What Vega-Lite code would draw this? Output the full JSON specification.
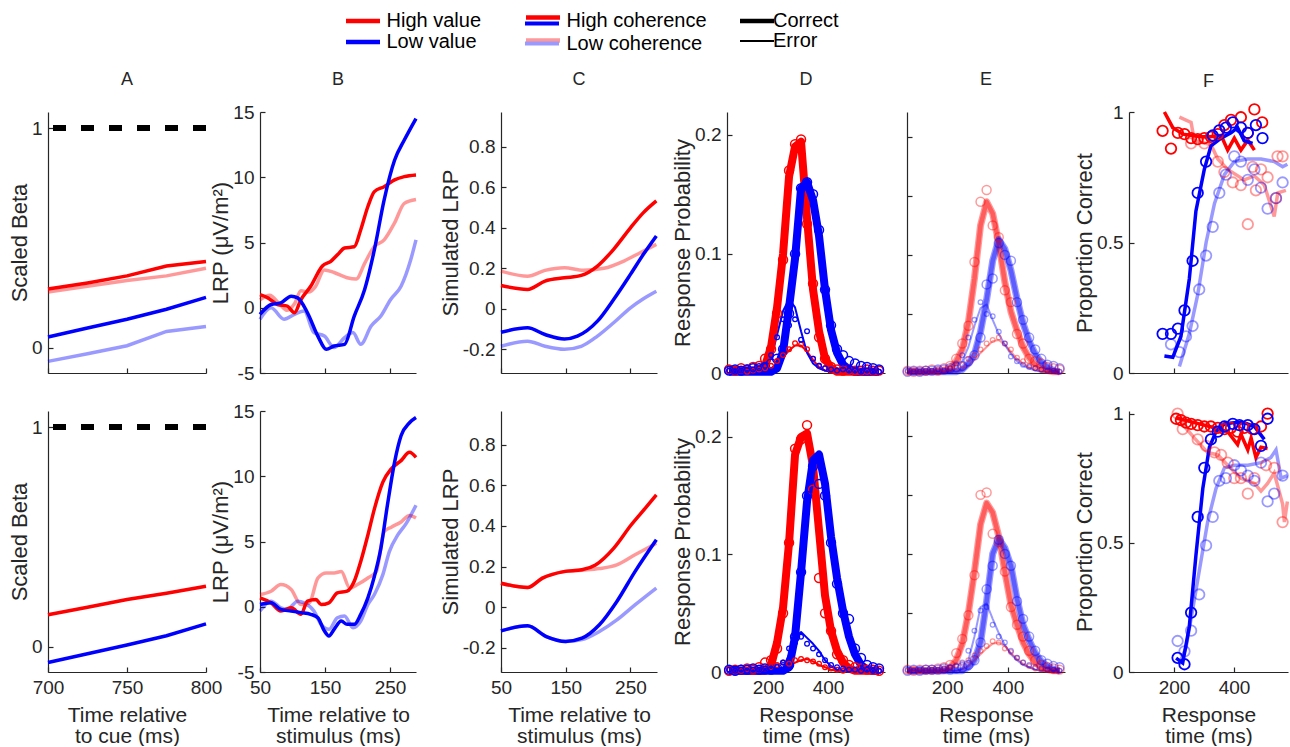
{
"$schema":"https://vega.github.io/schema/vega-lite/v6.json",
"background":"white",
"padding":{"left":8,"top":10,"right":0,"bottom":0},
"autosize":{"type":"pad"},
"datasets":{
"A1":[{"v":"HV","c":"LC","x":700,"y":0.254},{"v":"HV","c":"LC","x":725,"y":0.28},{"v":"HV","c":"LC","x":750,"y":0.306},{"v":"HV","c":"LC","x":775,"y":0.327},{"v":"HV","c":"LC","x":800,"y":0.362},
{"v":"LV","c":"LC","x":700,"y":-0.062},{"v":"LV","c":"LC","x":725,"y":-0.027},{"v":"LV","c":"LC","x":750,"y":0.009},{"v":"LV","c":"LC","x":775,"y":0.074},{"v":"LV","c":"LC","x":800,"y":0.097},
{"v":"HV","c":"HC","x":700,"y":0.267},{"v":"HV","c":"HC","x":725,"y":0.295},{"v":"HV","c":"HC","x":750,"y":0.327},{"v":"HV","c":"HC","x":775,"y":0.372},{"v":"HV","c":"HC","x":800,"y":0.392},
{"v":"LV","c":"HC","x":700,"y":0.049},{"v":"LV","c":"HC","x":725,"y":0.09},{"v":"LV","c":"HC","x":750,"y":0.13},{"v":"LV","c":"HC","x":775,"y":0.175},{"v":"LV","c":"HC","x":800,"y":0.229}],
"A2":[{"v":"HV","c":"HC","x":700,"y":0.146},{"v":"HV","c":"HC","x":725,"y":0.18},{"v":"HV","c":"HC","x":750,"y":0.215},{"v":"HV","c":"HC","x":775,"y":0.243},{"v":"HV","c":"HC","x":800,"y":0.275},
{"v":"LV","c":"HC","x":700,"y":-0.072},{"v":"LV","c":"HC","x":725,"y":-0.032},{"v":"LV","c":"HC","x":750,"y":0.008},{"v":"LV","c":"HC","x":775,"y":0.05},{"v":"LV","c":"HC","x":800,"y":0.104}],
"B1":[{"v":"HV","c":"LC","x":50,"y":0.6},{"v":"HV","c":"LC","x":65,"y":0.95},{"v":"HV","c":"LC","x":80,"y":0.3},{"v":"HV","c":"LC","x":92,"y":-0.2},{"v":"HV","c":"LC","x":103,"y":0.3},{"v":"HV","c":"LC","x":113,"y":1.3},{"v":"HV","c":"LC","x":125,"y":1.2},{"v":"HV","c":"LC","x":135,"y":1.6},{"v":"HV","c":"LC","x":149,"y":2.9},{"v":"HV","c":"LC","x":164,"y":2.7},{"v":"HV","c":"LC","x":184,"y":2.3},{"v":"HV","c":"LC","x":198,"y":2.2},{"v":"HV","c":"LC","x":211,"y":3.4},{"v":"HV","c":"LC","x":226,"y":4.7},{"v":"HV","c":"LC","x":241,"y":5.2},{"v":"HV","c":"LC","x":257,"y":6.5},{"v":"HV","c":"LC","x":272,"y":8.0},{"v":"HV","c":"LC","x":290,"y":8.3},
{"v":"LV","c":"LC","x":50,"y":-0.89},{"v":"LV","c":"LC","x":67,"y":0},{"v":"LV","c":"LC","x":87,"y":-0.89},{"v":"LV","c":"LC","x":103,"y":-0.51},{"v":"LV","c":"LC","x":118,"y":-0.25},{"v":"LV","c":"LC","x":133,"y":-1.9},{"v":"LV","c":"LC","x":149,"y":-2.17},{"v":"LV","c":"LC","x":164,"y":-3.05},{"v":"LV","c":"LC","x":180,"y":-2.3},{"v":"LV","c":"LC","x":193,"y":-1.9},{"v":"LV","c":"LC","x":205,"y":-2.8},{"v":"LV","c":"LC","x":221,"y":-1.4},{"v":"LV","c":"LC","x":236,"y":-0.63},{"v":"LV","c":"LC","x":251,"y":0.63},{"v":"LV","c":"LC","x":267,"y":1.65},{"v":"LV","c":"LC","x":282,"y":3.7},{"v":"LV","c":"LC","x":290,"y":5.2},
{"v":"HV","c":"HC","x":50,"y":1.0},{"v":"HV","c":"HC","x":62,"y":0.76},{"v":"HV","c":"HC","x":77,"y":0.25},{"v":"HV","c":"HC","x":92,"y":0.12},{"v":"HV","c":"HC","x":103,"y":-0.38},{"v":"HV","c":"HC","x":113,"y":0.63},{"v":"HV","c":"HC","x":128,"y":1.65},{"v":"HV","c":"HC","x":146,"y":3.2},{"v":"HV","c":"HC","x":159,"y":3.56},{"v":"HV","c":"HC","x":170,"y":4.1},{"v":"HV","c":"HC","x":180,"y":4.58},{"v":"HV","c":"HC","x":195,"y":4.67},{"v":"HV","c":"HC","x":205,"y":5.98},{"v":"HV","c":"HC","x":216,"y":7.76},{"v":"HV","c":"HC","x":226,"y":8.9},{"v":"HV","c":"HC","x":241,"y":9.28},{"v":"HV","c":"HC","x":257,"y":9.8},{"v":"HV","c":"HC","x":272,"y":10.05},{"v":"HV","c":"HC","x":290,"y":10.18},
{"v":"LV","c":"HC","x":50,"y":-0.5},{"v":"LV","c":"HC","x":67,"y":0.25},{"v":"LV","c":"HC","x":82,"y":0.38},{"v":"LV","c":"HC","x":98,"y":0.89},{"v":"LV","c":"HC","x":108,"y":0.76},{"v":"LV","c":"HC","x":123,"y":-0.38},{"v":"LV","c":"HC","x":139,"y":-2.17},{"v":"LV","c":"HC","x":152,"y":-3.18},{"v":"LV","c":"HC","x":164,"y":-2.93},{"v":"LV","c":"HC","x":180,"y":-2.8},{"v":"LV","c":"HC","x":195,"y":-0.64},{"v":"LV","c":"HC","x":211,"y":1.4},{"v":"LV","c":"HC","x":226,"y":4.45},{"v":"LV","c":"HC","x":241,"y":8.27},{"v":"LV","c":"HC","x":257,"y":11.3},{"v":"LV","c":"HC","x":272,"y":12.85},{"v":"LV","c":"HC","x":290,"y":14.5}],
"B2":[{"v":"HV","c":"LC","x":50,"y":0.94},{"v":"HV","c":"LC","x":67,"y":1.19},{"v":"HV","c":"LC","x":82,"y":1.7},{"v":"HV","c":"LC","x":98,"y":1.32},{"v":"HV","c":"LC","x":113,"y":0.17},{"v":"HV","c":"LC","x":126,"y":0.3},{"v":"HV","c":"LC","x":139,"y":2.2},{"v":"HV","c":"LC","x":152,"y":2.59},{"v":"HV","c":"LC","x":164,"y":2.59},{"v":"HV","c":"LC","x":175,"y":2.7},{"v":"HV","c":"LC","x":188,"y":1.44},{"v":"HV","c":"LC","x":200,"y":1.7},{"v":"HV","c":"LC","x":216,"y":2.2},{"v":"HV","c":"LC","x":229,"y":2.7},{"v":"HV","c":"LC","x":241,"y":5.75},{"v":"HV","c":"LC","x":252,"y":6.1},{"v":"HV","c":"LC","x":267,"y":6.5},{"v":"HV","c":"LC","x":280,"y":7.0},{"v":"HV","c":"LC","x":290,"y":6.8},
{"v":"LV","c":"LC","x":50,"y":-0.33},{"v":"LV","c":"LC","x":67,"y":0.43},{"v":"LV","c":"LC","x":82,"y":-0.08},{"v":"LV","c":"LC","x":92,"y":-0.2},{"v":"LV","c":"LC","x":108,"y":0.43},{"v":"LV","c":"LC","x":118,"y":0.3},{"v":"LV","c":"LC","x":133,"y":-0.33},{"v":"LV","c":"LC","x":144,"y":-1.35},{"v":"LV","c":"LC","x":156,"y":-1.73},{"v":"LV","c":"LC","x":169,"y":-0.84},{"v":"LV","c":"LC","x":180,"y":-0.7},{"v":"LV","c":"LC","x":193,"y":-1.6},{"v":"LV","c":"LC","x":205,"y":-1.1},{"v":"LV","c":"LC","x":216,"y":0.17},{"v":"LV","c":"LC","x":226,"y":0.94},{"v":"LV","c":"LC","x":239,"y":2.46},{"v":"LV","c":"LC","x":249,"y":4.23},{"v":"LV","c":"LC","x":262,"y":5.5},{"v":"LV","c":"LC","x":275,"y":6.39},{"v":"LV","c":"LC","x":290,"y":7.78},
{"v":"HV","c":"HC","x":50,"y":0.68},{"v":"HV","c":"HC","x":67,"y":0.3},{"v":"HV","c":"HC","x":82,"y":-0.33},{"v":"HV","c":"HC","x":98,"y":-0.08},{"v":"HV","c":"HC","x":113,"y":-0.58},{"v":"HV","c":"HC","x":123,"y":0.43},{"v":"HV","c":"HC","x":136,"y":0.55},{"v":"HV","c":"HC","x":144,"y":0.17},{"v":"HV","c":"HC","x":156,"y":0.3},{"v":"HV","c":"HC","x":169,"y":1.06},{"v":"HV","c":"HC","x":184,"y":1.19},{"v":"HV","c":"HC","x":195,"y":1.95},{"v":"HV","c":"HC","x":205,"y":3.47},{"v":"HV","c":"HC","x":216,"y":5.5},{"v":"HV","c":"HC","x":226,"y":7.5},{"v":"HV","c":"HC","x":239,"y":9.55},{"v":"HV","c":"HC","x":252,"y":10.57},{"v":"HV","c":"HC","x":267,"y":11.2},{"v":"HV","c":"HC","x":280,"y":11.83},{"v":"HV","c":"HC","x":290,"y":11.45},
{"v":"LV","c":"HC","x":50,"y":0.17},{"v":"LV","c":"HC","x":67,"y":0.3},{"v":"LV","c":"HC","x":82,"y":-0.2},{"v":"LV","c":"HC","x":98,"y":-0.33},{"v":"LV","c":"HC","x":113,"y":-0.45},{"v":"LV","c":"HC","x":128,"y":-0.58},{"v":"LV","c":"HC","x":139,"y":-0.84},{"v":"LV","c":"HC","x":149,"y":-1.85},{"v":"LV","c":"HC","x":156,"y":-2.24},{"v":"LV","c":"HC","x":164,"y":-1.73},{"v":"LV","c":"HC","x":175,"y":-1.1},{"v":"LV","c":"HC","x":184,"y":-1.35},{"v":"LV","c":"HC","x":195,"y":-1.35},{"v":"LV","c":"HC","x":205,"y":-0.58},{"v":"LV","c":"HC","x":216,"y":0.68},{"v":"LV","c":"HC","x":226,"y":2.33},{"v":"LV","c":"HC","x":236,"y":4.49},{"v":"LV","c":"HC","x":246,"y":7.78},{"v":"LV","c":"HC","x":257,"y":11.07},{"v":"LV","c":"HC","x":267,"y":13.1},{"v":"LV","c":"HC","x":280,"y":14.1},{"v":"LV","c":"HC","x":290,"y":14.5}],
"C1":[{"v":"HV","c":"LC","x":50,"y":0.186},{"v":"HV","c":"LC","x":91,"y":0.161},{"v":"HV","c":"LC","x":118,"y":0.19},{"v":"HV","c":"LC","x":148,"y":0.203},{"v":"HV","c":"LC","x":177,"y":0.19},{"v":"HV","c":"LC","x":209,"y":0.2},{"v":"HV","c":"LC","x":240,"y":0.236},{"v":"HV","c":"LC","x":265,"y":0.277},{"v":"HV","c":"LC","x":290,"y":0.318},
{"v":"LV","c":"LC","x":50,"y":-0.185},{"v":"LV","c":"LC","x":91,"y":-0.16},{"v":"LV","c":"LC","x":118,"y":-0.185},{"v":"LV","c":"LC","x":148,"y":-0.2},{"v":"LV","c":"LC","x":174,"y":-0.185},{"v":"LV","c":"LC","x":199,"y":-0.135},{"v":"LV","c":"LC","x":224,"y":-0.069},{"v":"LV","c":"LC","x":250,"y":0.005},{"v":"LV","c":"LC","x":270,"y":0.05},{"v":"LV","c":"LC","x":290,"y":0.087},
{"v":"HV","c":"HC","x":50,"y":0.115},{"v":"HV","c":"HC","x":91,"y":0.096},{"v":"HV","c":"HC","x":118,"y":0.137},{"v":"HV","c":"HC","x":148,"y":0.153},{"v":"HV","c":"HC","x":174,"y":0.165},{"v":"HV","c":"HC","x":199,"y":0.211},{"v":"HV","c":"HC","x":224,"y":0.294},{"v":"HV","c":"HC","x":250,"y":0.4},{"v":"HV","c":"HC","x":270,"y":0.475},{"v":"HV","c":"HC","x":290,"y":0.533},
{"v":"LV","c":"HC","x":50,"y":-0.116},{"v":"LV","c":"HC","x":91,"y":-0.094},{"v":"LV","c":"HC","x":118,"y":-0.127},{"v":"LV","c":"HC","x":148,"y":-0.149},{"v":"LV","c":"HC","x":168,"y":-0.135},{"v":"LV","c":"HC","x":199,"y":-0.061},{"v":"LV","c":"HC","x":224,"y":0.046},{"v":"LV","c":"HC","x":250,"y":0.17},{"v":"LV","c":"HC","x":270,"y":0.269},{"v":"LV","c":"HC","x":290,"y":0.36}],
"C2":[{"v":"HV","c":"LC","x":50,"y":0.118},{"v":"HV","c":"LC","x":91,"y":0.097},{"v":"HV","c":"LC","x":114,"y":0.143},{"v":"HV","c":"LC","x":147,"y":0.175},{"v":"HV","c":"LC","x":175,"y":0.182},{"v":"HV","c":"LC","x":202,"y":0.19},{"v":"HV","c":"LC","x":229,"y":0.208},{"v":"HV","c":"LC","x":257,"y":0.258},{"v":"HV","c":"LC","x":290,"y":0.315},
{"v":"LV","c":"LC","x":50,"y":-0.117},{"v":"LV","c":"LC","x":91,"y":-0.092},{"v":"LV","c":"LC","x":120,"y":-0.145},{"v":"LV","c":"LC","x":150,"y":-0.169},{"v":"LV","c":"LC","x":175,"y":-0.16},{"v":"LV","c":"LC","x":202,"y":-0.12},{"v":"LV","c":"LC","x":229,"y":-0.063},{"v":"LV","c":"LC","x":257,"y":0.011},{"v":"LV","c":"LC","x":290,"y":0.094},
{"v":"HV","c":"HC","x":50,"y":0.118},{"v":"HV","c":"HC","x":91,"y":0.097},{"v":"HV","c":"HC","x":114,"y":0.143},{"v":"HV","c":"HC","x":147,"y":0.175},{"v":"HV","c":"HC","x":175,"y":0.184},{"v":"HV","c":"HC","x":196,"y":0.208},{"v":"HV","c":"HC","x":224,"y":0.29},{"v":"HV","c":"HC","x":251,"y":0.405},{"v":"HV","c":"HC","x":273,"y":0.488},{"v":"HV","c":"HC","x":290,"y":0.553},
{"v":"LV","c":"HC","x":50,"y":-0.117},{"v":"LV","c":"HC","x":91,"y":-0.092},{"v":"LV","c":"HC","x":120,"y":-0.145},{"v":"LV","c":"HC","x":150,"y":-0.169},{"v":"LV","c":"HC","x":175,"y":-0.153},{"v":"LV","c":"HC","x":202,"y":-0.087},{"v":"LV","c":"HC","x":229,"y":0.028},{"v":"LV","c":"HC","x":257,"y":0.175},{"v":"LV","c":"HC","x":290,"y":0.332}],
"D1":[
{"v":"HV","c":"HC","o":"C","x":70,"y":0.002,"b":0.003},{"v":"HV","c":"HC","o":"C","x":90,"y":0.002,"b":0.002},{"v":"HV","c":"HC","o":"C","x":110,"y":0.002,"b":0.004},{"v":"HV","c":"HC","o":"C","x":130,"y":0.002,"b":0.003},{"v":"HV","c":"HC","o":"C","x":150,"y":0.002,"b":0.005},{"v":"HV","c":"HC","o":"C","x":170,"y":0.003,"b":0.006},{"v":"HV","c":"HC","o":"C","x":190,"y":0.006,"b":0.012},{"v":"HV","c":"HC","o":"C","x":210,"y":0.022,"b":0.02},{"v":"HV","c":"HC","o":"C","x":230,"y":0.055,"b":0.05},{"v":"HV","c":"HC","o":"C","x":250,"y":0.1,"b":0.095},{"v":"HV","c":"HC","o":"C","x":270,"y":0.165,"b":0.17},{"v":"HV","c":"HC","o":"C","x":290,"y":0.19,"b":0.192},{"v":"HV","c":"HC","o":"C","x":310,"y":0.194,"b":0.196},{"v":"HV","c":"HC","o":"C","x":330,"y":0.13,"b":0.125},{"v":"HV","c":"HC","o":"C","x":350,"y":0.07,"b":0.075},{"v":"HV","c":"HC","o":"C","x":370,"y":0.035,"b":0.03},{"v":"HV","c":"HC","o":"C","x":390,"y":0.012,"b":0.012},{"v":"HV","c":"HC","o":"C","x":410,"y":0.004,"b":0.005},{"v":"HV","c":"HC","o":"C","x":430,"y":0.001,"b":0.003},{"v":"HV","c":"HC","o":"C","x":450,"y":0.001,"b":0.002},{"v":"HV","c":"HC","o":"C","x":470,"y":0.001,"b":0.003},{"v":"HV","c":"HC","o":"C","x":490,"y":0.001,"b":0.002},{"v":"HV","c":"HC","o":"C","x":510,"y":0.001,"b":0.002},{"v":"HV","c":"HC","o":"C","x":530,"y":0.001,"b":0.003},{"v":"HV","c":"HC","o":"C","x":550,"y":0.001,"b":0.002},{"v":"HV","c":"HC","o":"C","x":570,"y":0.001,"b":0.002},
{"v":"LV","c":"HC","o":"C","x":70,"y":0.001,"b":0.002},{"v":"LV","c":"HC","o":"C","x":90,"y":0.001,"b":0.003},{"v":"LV","c":"HC","o":"C","x":110,"y":0.001,"b":0.002},{"v":"LV","c":"HC","o":"C","x":130,"y":0.001,"b":0.003},{"v":"LV","c":"HC","o":"C","x":150,"y":0.001,"b":0.004},{"v":"LV","c":"HC","o":"C","x":170,"y":0.001,"b":0.004},{"v":"LV","c":"HC","o":"C","x":190,"y":0.001,"b":0.005},{"v":"LV","c":"HC","o":"C","x":210,"y":0.001,"b":0.008},{"v":"LV","c":"HC","o":"C","x":230,"y":0.004,"b":0.012},{"v":"LV","c":"HC","o":"C","x":250,"y":0.018,"b":0.02},{"v":"LV","c":"HC","o":"C","x":270,"y":0.055,"b":0.05},{"v":"LV","c":"HC","o":"C","x":290,"y":0.096,"b":0.1},{"v":"LV","c":"HC","o":"C","x":310,"y":0.155,"b":0.155},{"v":"LV","c":"HC","o":"C","x":330,"y":0.16,"b":0.16},{"v":"LV","c":"HC","o":"C","x":350,"y":0.145,"b":0.15},{"v":"LV","c":"HC","o":"C","x":370,"y":0.115,"b":0.12},{"v":"LV","c":"HC","o":"C","x":390,"y":0.07,"b":0.07},{"v":"LV","c":"HC","o":"C","x":410,"y":0.036,"b":0.04},{"v":"LV","c":"HC","o":"C","x":430,"y":0.017,"b":0.02},{"v":"LV","c":"HC","o":"C","x":450,"y":0.007,"b":0.015},{"v":"LV","c":"HC","o":"C","x":470,"y":0.003,"b":0.01},{"v":"LV","c":"HC","o":"C","x":490,"y":0.001,"b":0.008},{"v":"LV","c":"HC","o":"C","x":510,"y":0.001,"b":0.006},{"v":"LV","c":"HC","o":"C","x":530,"y":0.001,"b":0.005},{"v":"LV","c":"HC","o":"C","x":550,"y":0.001,"b":0.004},{"v":"LV","c":"HC","o":"C","x":570,"y":0.001,"b":0.003},
{"v":"HV","c":"HC","o":"E","x":70,"y":0.001,"b":0.002},{"v":"HV","c":"HC","o":"E","x":90,"y":0.001,"b":0.001},{"v":"HV","c":"HC","o":"E","x":110,"y":0.001,"b":0.002},{"v":"HV","c":"HC","o":"E","x":130,"y":0.001,"b":0.001},{"v":"HV","c":"HC","o":"E","x":150,"y":0.001,"b":0.002},{"v":"HV","c":"HC","o":"E","x":170,"y":0.001,"b":0.003},{"v":"HV","c":"HC","o":"E","x":190,"y":0.001,"b":0.004},{"v":"HV","c":"HC","o":"E","x":210,"y":0.003,"b":0.006},{"v":"HV","c":"HC","o":"E","x":230,"y":0.007,"b":0.01},{"v":"HV","c":"HC","o":"E","x":250,"y":0.013,"b":0.015},{"v":"HV","c":"HC","o":"E","x":270,"y":0.019,"b":0.02},{"v":"HV","c":"HC","o":"E","x":290,"y":0.023,"b":0.025},{"v":"HV","c":"HC","o":"E","x":310,"y":0.023,"b":0.024},{"v":"HV","c":"HC","o":"E","x":330,"y":0.018,"b":0.02},{"v":"HV","c":"HC","o":"E","x":350,"y":0.011,"b":0.012},{"v":"HV","c":"HC","o":"E","x":370,"y":0.005,"b":0.006},{"v":"HV","c":"HC","o":"E","x":390,"y":0.002,"b":0.004},{"v":"HV","c":"HC","o":"E","x":410,"y":0.001,"b":0.002},{"v":"HV","c":"HC","o":"E","x":430,"y":0.001,"b":0.002},{"v":"HV","c":"HC","o":"E","x":450,"y":0.001,"b":0.001},{"v":"HV","c":"HC","o":"E","x":470,"y":0.001,"b":0.001},{"v":"HV","c":"HC","o":"E","x":490,"y":0.001,"b":0.001},{"v":"HV","c":"HC","o":"E","x":510,"y":0.001,"b":0.001},{"v":"HV","c":"HC","o":"E","x":530,"y":0.001,"b":0.001},{"v":"HV","c":"HC","o":"E","x":550,"y":0.001,"b":0.001},{"v":"HV","c":"HC","o":"E","x":570,"y":0.001,"b":0.001},
{"v":"LV","c":"HC","o":"E","x":70,"y":0.001,"b":0.002},{"v":"LV","c":"HC","o":"E","x":90,"y":0.001,"b":0.001},{"v":"LV","c":"HC","o":"E","x":110,"y":0.001,"b":0.002},{"v":"LV","c":"HC","o":"E","x":130,"y":0.001,"b":0.003},{"v":"LV","c":"HC","o":"E","x":150,"y":0.001,"b":0.003},{"v":"LV","c":"HC","o":"E","x":170,"y":0.001,"b":0.004},{"v":"LV","c":"HC","o":"E","x":190,"y":0.004,"b":0.006},{"v":"LV","c":"HC","o":"E","x":210,"y":0.012,"b":0.015},{"v":"LV","c":"HC","o":"E","x":230,"y":0.032,"b":0.03},{"v":"LV","c":"HC","o":"E","x":250,"y":0.052,"b":0.045},{"v":"LV","c":"HC","o":"E","x":270,"y":0.062,"b":0.04},{"v":"LV","c":"HC","o":"E","x":290,"y":0.055,"b":0.045},{"v":"LV","c":"HC","o":"E","x":310,"y":0.035,"b":0.028},{"v":"LV","c":"HC","o":"E","x":330,"y":0.017,"b":0.035},{"v":"LV","c":"HC","o":"E","x":350,"y":0.008,"b":0.012},{"v":"LV","c":"HC","o":"E","x":370,"y":0.004,"b":0.006},{"v":"LV","c":"HC","o":"E","x":390,"y":0.002,"b":0.004},{"v":"LV","c":"HC","o":"E","x":410,"y":0.001,"b":0.003},{"v":"LV","c":"HC","o":"E","x":430,"y":0.001,"b":0.002},{"v":"LV","c":"HC","o":"E","x":450,"y":0.001,"b":0.003},{"v":"LV","c":"HC","o":"E","x":470,"y":0.001,"b":0.002},{"v":"LV","c":"HC","o":"E","x":490,"y":0.001,"b":0.002},{"v":"LV","c":"HC","o":"E","x":510,"y":0.001,"b":0.001},{"v":"LV","c":"HC","o":"E","x":530,"y":0.001,"b":0.002},{"v":"LV","c":"HC","o":"E","x":550,"y":0.001,"b":0.001},{"v":"LV","c":"HC","o":"E","x":570,"y":0.001,"b":0.001}],
"D2":[
{"v":"HV","c":"HC","o":"C","x":70,"y":0.001,"b":0.001},{"v":"HV","c":"HC","o":"C","x":90,"y":0.001,"b":0.002},{"v":"HV","c":"HC","o":"C","x":110,"y":0.001,"b":0.002},{"v":"HV","c":"HC","o":"C","x":130,"y":0.001,"b":0.003},{"v":"HV","c":"HC","o":"C","x":150,"y":0.001,"b":0.002},{"v":"HV","c":"HC","o":"C","x":170,"y":0.001,"b":0.004},{"v":"HV","c":"HC","o":"C","x":190,"y":0.001,"b":0.008},{"v":"HV","c":"HC","o":"C","x":210,"y":0.006,"b":0.01},{"v":"HV","c":"HC","o":"C","x":230,"y":0.025,"b":0.02},{"v":"HV","c":"HC","o":"C","x":250,"y":0.055,"b":0.05},{"v":"HV","c":"HC","o":"C","x":270,"y":0.11,"b":0.11},{"v":"HV","c":"HC","o":"C","x":290,"y":0.185,"b":0.19},{"v":"HV","c":"HC","o":"C","x":310,"y":0.2,"b":0.198},{"v":"HV","c":"HC","o":"C","x":330,"y":0.203,"b":0.21},{"v":"HV","c":"HC","o":"C","x":350,"y":0.175,"b":0.155},{"v":"HV","c":"HC","o":"C","x":370,"y":0.12,"b":0.08},{"v":"HV","c":"HC","o":"C","x":390,"y":0.065,"b":0.05},{"v":"HV","c":"HC","o":"C","x":410,"y":0.035,"b":0.035},{"v":"HV","c":"HC","o":"C","x":430,"y":0.018,"b":0.015},{"v":"HV","c":"HC","o":"C","x":450,"y":0.008,"b":0.01},{"v":"HV","c":"HC","o":"C","x":470,"y":0.003,"b":0.006},{"v":"HV","c":"HC","o":"C","x":490,"y":0.001,"b":0.004},{"v":"HV","c":"HC","o":"C","x":510,"y":0.001,"b":0.003},{"v":"HV","c":"HC","o":"C","x":530,"y":0.001,"b":0.002},{"v":"HV","c":"HC","o":"C","x":550,"y":0.001,"b":0.002},{"v":"HV","c":"HC","o":"C","x":570,"y":0.001,"b":0.001},
{"v":"LV","c":"HC","o":"C","x":70,"y":0.001,"b":0.002},{"v":"LV","c":"HC","o":"C","x":90,"y":0.001,"b":0.001},{"v":"LV","c":"HC","o":"C","x":110,"y":0.001,"b":0.002},{"v":"LV","c":"HC","o":"C","x":130,"y":0.001,"b":0.002},{"v":"LV","c":"HC","o":"C","x":150,"y":0.001,"b":0.003},{"v":"LV","c":"HC","o":"C","x":170,"y":0.001,"b":0.002},{"v":"LV","c":"HC","o":"C","x":190,"y":0.001,"b":0.003},{"v":"LV","c":"HC","o":"C","x":210,"y":0.001,"b":0.002},{"v":"LV","c":"HC","o":"C","x":230,"y":0.001,"b":0.003},{"v":"LV","c":"HC","o":"C","x":250,"y":0.001,"b":0.004},{"v":"LV","c":"HC","o":"C","x":270,"y":0.004,"b":0.006},{"v":"LV","c":"HC","o":"C","x":290,"y":0.03,"b":0.03},{"v":"LV","c":"HC","o":"C","x":310,"y":0.085,"b":0.085},{"v":"LV","c":"HC","o":"C","x":330,"y":0.145,"b":0.15},{"v":"LV","c":"HC","o":"C","x":350,"y":0.18,"b":0.175},{"v":"LV","c":"HC","o":"C","x":370,"y":0.185,"b":0.16},{"v":"LV","c":"HC","o":"C","x":390,"y":0.16,"b":0.15},{"v":"LV","c":"HC","o":"C","x":410,"y":0.115,"b":0.11},{"v":"LV","c":"HC","o":"C","x":430,"y":0.08,"b":0.075},{"v":"LV","c":"HC","o":"C","x":450,"y":0.052,"b":0.05},{"v":"LV","c":"HC","o":"C","x":470,"y":0.03,"b":0.045},{"v":"LV","c":"HC","o":"C","x":490,"y":0.015,"b":0.02},{"v":"LV","c":"HC","o":"C","x":510,"y":0.006,"b":0.012},{"v":"LV","c":"HC","o":"C","x":530,"y":0.002,"b":0.006},{"v":"LV","c":"HC","o":"C","x":550,"y":0.001,"b":0.004},{"v":"LV","c":"HC","o":"C","x":570,"y":0.001,"b":0.003},
{"v":"HV","c":"HC","o":"E","x":70,"y":0.001,"b":0.002},{"v":"HV","c":"HC","o":"E","x":90,"y":0.001,"b":0.001},{"v":"HV","c":"HC","o":"E","x":110,"y":0.001,"b":0.001},{"v":"HV","c":"HC","o":"E","x":130,"y":0.001,"b":0.002},{"v":"HV","c":"HC","o":"E","x":150,"y":0.001,"b":0.001},{"v":"HV","c":"HC","o":"E","x":170,"y":0.001,"b":0.002},{"v":"HV","c":"HC","o":"E","x":190,"y":0.001,"b":0.003},{"v":"HV","c":"HC","o":"E","x":210,"y":0.001,"b":0.004},{"v":"HV","c":"HC","o":"E","x":230,"y":0.001,"b":0.006},{"v":"HV","c":"HC","o":"E","x":250,"y":0.002,"b":0.008},{"v":"HV","c":"HC","o":"E","x":270,"y":0.005,"b":0.007},{"v":"HV","c":"HC","o":"E","x":290,"y":0.008,"b":0.01},{"v":"HV","c":"HC","o":"E","x":310,"y":0.01,"b":0.011},{"v":"HV","c":"HC","o":"E","x":330,"y":0.011,"b":0.01},{"v":"HV","c":"HC","o":"E","x":350,"y":0.009,"b":0.009},{"v":"HV","c":"HC","o":"E","x":370,"y":0.006,"b":0.007},{"v":"HV","c":"HC","o":"E","x":390,"y":0.004,"b":0.004},{"v":"HV","c":"HC","o":"E","x":410,"y":0.002,"b":0.003},{"v":"HV","c":"HC","o":"E","x":430,"y":0.001,"b":0.002},{"v":"HV","c":"HC","o":"E","x":450,"y":0.001,"b":0.001},{"v":"HV","c":"HC","o":"E","x":470,"y":0.001,"b":0.002},{"v":"HV","c":"HC","o":"E","x":490,"y":0.001,"b":0.001},{"v":"HV","c":"HC","o":"E","x":510,"y":0.001,"b":0.001},{"v":"HV","c":"HC","o":"E","x":530,"y":0.001,"b":0.001},{"v":"HV","c":"HC","o":"E","x":550,"y":0.001,"b":0.001},{"v":"HV","c":"HC","o":"E","x":570,"y":0.001,"b":0.001},
{"v":"LV","c":"HC","o":"E","x":70,"y":0.001,"b":0.002},{"v":"LV","c":"HC","o":"E","x":90,"y":0.001,"b":0.001},{"v":"LV","c":"HC","o":"E","x":110,"y":0.001,"b":0.002},{"v":"LV","c":"HC","o":"E","x":130,"y":0.001,"b":0.001},{"v":"LV","c":"HC","o":"E","x":150,"y":0.001,"b":0.002},{"v":"LV","c":"HC","o":"E","x":170,"y":0.001,"b":0.002},{"v":"LV","c":"HC","o":"E","x":190,"y":0.001,"b":0.003},{"v":"LV","c":"HC","o":"E","x":210,"y":0.001,"b":0.003},{"v":"LV","c":"HC","o":"E","x":230,"y":0.001,"b":0.004},{"v":"LV","c":"HC","o":"E","x":250,"y":0.003,"b":0.008},{"v":"LV","c":"HC","o":"E","x":270,"y":0.015,"b":0.02},{"v":"LV","c":"HC","o":"E","x":290,"y":0.03,"b":0.025},{"v":"LV","c":"HC","o":"E","x":310,"y":0.034,"b":0.03},{"v":"LV","c":"HC","o":"E","x":330,"y":0.029,"b":0.024},{"v":"LV","c":"HC","o":"E","x":350,"y":0.024,"b":0.02},{"v":"LV","c":"HC","o":"E","x":370,"y":0.018,"b":0.015},{"v":"LV","c":"HC","o":"E","x":390,"y":0.01,"b":0.01},{"v":"LV","c":"HC","o":"E","x":410,"y":0.005,"b":0.006},{"v":"LV","c":"HC","o":"E","x":430,"y":0.002,"b":0.004},{"v":"LV","c":"HC","o":"E","x":450,"y":0.001,"b":0.003},{"v":"LV","c":"HC","o":"E","x":470,"y":0.001,"b":0.002},{"v":"LV","c":"HC","o":"E","x":490,"y":0.001,"b":0.002},{"v":"LV","c":"HC","o":"E","x":510,"y":0.001,"b":0.001},{"v":"LV","c":"HC","o":"E","x":530,"y":0.001,"b":0.002},{"v":"LV","c":"HC","o":"E","x":550,"y":0.001,"b":0.001},{"v":"LV","c":"HC","o":"E","x":570,"y":0.001,"b":0.001}],
"E1":[
{"v":"HV","c":"LC","o":"C","x":70,"y":0.001,"b":0.002},{"v":"HV","c":"LC","o":"C","x":90,"y":0.001,"b":0.001},{"v":"HV","c":"LC","o":"C","x":110,"y":0.001,"b":0.002},{"v":"HV","c":"LC","o":"C","x":130,"y":0.001,"b":0.002},{"v":"HV","c":"LC","o":"C","x":150,"y":0.001,"b":0.003},{"v":"HV","c":"LC","o":"C","x":170,"y":0.001,"b":0.002},{"v":"HV","c":"LC","o":"C","x":190,"y":0.002,"b":0.004},{"v":"HV","c":"LC","o":"C","x":210,"y":0.004,"b":0.006},{"v":"HV","c":"LC","o":"C","x":230,"y":0.01,"b":0.012},{"v":"HV","c":"LC","o":"C","x":250,"y":0.02,"b":0.025},{"v":"HV","c":"LC","o":"C","x":270,"y":0.043,"b":0.04},{"v":"HV","c":"LC","o":"C","x":290,"y":0.08,"b":0.094},{"v":"HV","c":"LC","o":"C","x":310,"y":0.125,"b":0.145},{"v":"HV","c":"LC","o":"C","x":330,"y":0.145,"b":0.155},{"v":"HV","c":"LC","o":"C","x":350,"y":0.135,"b":0.125},{"v":"HV","c":"LC","o":"C","x":370,"y":0.11,"b":0.115},{"v":"HV","c":"LC","o":"C","x":390,"y":0.077,"b":0.07},{"v":"HV","c":"LC","o":"C","x":410,"y":0.052,"b":0.06},{"v":"HV","c":"LC","o":"C","x":430,"y":0.036,"b":0.033},{"v":"HV","c":"LC","o":"C","x":450,"y":0.022,"b":0.025},{"v":"HV","c":"LC","o":"C","x":470,"y":0.013,"b":0.012},{"v":"HV","c":"LC","o":"C","x":490,"y":0.007,"b":0.01},{"v":"HV","c":"LC","o":"C","x":510,"y":0.004,"b":0.008},{"v":"HV","c":"LC","o":"C","x":530,"y":0.002,"b":0.005},{"v":"HV","c":"LC","o":"C","x":550,"y":0.001,"b":0.004},{"v":"HV","c":"LC","o":"C","x":570,"y":0.001,"b":0.003},
{"v":"LV","c":"LC","o":"C","x":70,"y":0.001,"b":0.001},{"v":"LV","c":"LC","o":"C","x":90,"y":0.001,"b":0.002},{"v":"LV","c":"LC","o":"C","x":110,"y":0.001,"b":0.001},{"v":"LV","c":"LC","o":"C","x":130,"y":0.001,"b":0.002},{"v":"LV","c":"LC","o":"C","x":150,"y":0.001,"b":0.002},{"v":"LV","c":"LC","o":"C","x":170,"y":0.001,"b":0.003},{"v":"LV","c":"LC","o":"C","x":190,"y":0.001,"b":0.003},{"v":"LV","c":"LC","o":"C","x":210,"y":0.001,"b":0.004},{"v":"LV","c":"LC","o":"C","x":230,"y":0.001,"b":0.005},{"v":"LV","c":"LC","o":"C","x":250,"y":0.003,"b":0.006},{"v":"LV","c":"LC","o":"C","x":270,"y":0.008,"b":0.01},{"v":"LV","c":"LC","o":"C","x":290,"y":0.016,"b":0.015},{"v":"LV","c":"LC","o":"C","x":310,"y":0.035,"b":0.03},{"v":"LV","c":"LC","o":"C","x":330,"y":0.062,"b":0.075},{"v":"LV","c":"LC","o":"C","x":350,"y":0.095,"b":0.08},{"v":"LV","c":"LC","o":"C","x":370,"y":0.113,"b":0.11},{"v":"LV","c":"LC","o":"C","x":390,"y":0.105,"b":0.1},{"v":"LV","c":"LC","o":"C","x":410,"y":0.087,"b":0.095},{"v":"LV","c":"LC","o":"C","x":430,"y":0.063,"b":0.06},{"v":"LV","c":"LC","o":"C","x":450,"y":0.042,"b":0.045},{"v":"LV","c":"LC","o":"C","x":470,"y":0.027,"b":0.03},{"v":"LV","c":"LC","o":"C","x":490,"y":0.016,"b":0.02},{"v":"LV","c":"LC","o":"C","x":510,"y":0.009,"b":0.012},{"v":"LV","c":"LC","o":"C","x":530,"y":0.005,"b":0.007},{"v":"LV","c":"LC","o":"C","x":550,"y":0.002,"b":0.006},{"v":"LV","c":"LC","o":"C","x":570,"y":0.001,"b":0.004},
{"v":"HV","c":"LC","o":"E","x":70,"y":0.001,"b":0.001},{"v":"HV","c":"LC","o":"E","x":90,"y":0.001,"b":0.002},{"v":"HV","c":"LC","o":"E","x":110,"y":0.001,"b":0.001},{"v":"HV","c":"LC","o":"E","x":130,"y":0.001,"b":0.001},{"v":"HV","c":"LC","o":"E","x":150,"y":0.001,"b":0.002},{"v":"HV","c":"LC","o":"E","x":170,"y":0.001,"b":0.002},{"v":"HV","c":"LC","o":"E","x":190,"y":0.001,"b":0.003},{"v":"HV","c":"LC","o":"E","x":210,"y":0.001,"b":0.004},{"v":"HV","c":"LC","o":"E","x":230,"y":0.001,"b":0.005},{"v":"HV","c":"LC","o":"E","x":250,"y":0.003,"b":0.007},{"v":"HV","c":"LC","o":"E","x":270,"y":0.006,"b":0.012},{"v":"HV","c":"LC","o":"E","x":290,"y":0.011,"b":0.015},{"v":"HV","c":"LC","o":"E","x":310,"y":0.017,"b":0.02},{"v":"HV","c":"LC","o":"E","x":330,"y":0.022,"b":0.025},{"v":"HV","c":"LC","o":"E","x":350,"y":0.027,"b":0.028},{"v":"HV","c":"LC","o":"E","x":370,"y":0.028,"b":0.03},{"v":"HV","c":"LC","o":"E","x":390,"y":0.024,"b":0.025},{"v":"HV","c":"LC","o":"E","x":410,"y":0.018,"b":0.02},{"v":"HV","c":"LC","o":"E","x":430,"y":0.012,"b":0.013},{"v":"HV","c":"LC","o":"E","x":450,"y":0.008,"b":0.01},{"v":"HV","c":"LC","o":"E","x":470,"y":0.005,"b":0.006},{"v":"HV","c":"LC","o":"E","x":490,"y":0.003,"b":0.004},{"v":"HV","c":"LC","o":"E","x":510,"y":0.001,"b":0.003},{"v":"HV","c":"LC","o":"E","x":530,"y":0.001,"b":0.002},{"v":"HV","c":"LC","o":"E","x":550,"y":0.001,"b":0.002},{"v":"HV","c":"LC","o":"E","x":570,"y":0.001,"b":0.001},
{"v":"LV","c":"LC","o":"E","x":70,"y":0.001,"b":0.002},{"v":"LV","c":"LC","o":"E","x":90,"y":0.001,"b":0.001},{"v":"LV","c":"LC","o":"E","x":110,"y":0.001,"b":0.001},{"v":"LV","c":"LC","o":"E","x":130,"y":0.001,"b":0.002},{"v":"LV","c":"LC","o":"E","x":150,"y":0.001,"b":0.002},{"v":"LV","c":"LC","o":"E","x":170,"y":0.001,"b":0.003},{"v":"LV","c":"LC","o":"E","x":190,"y":0.001,"b":0.002},{"v":"LV","c":"LC","o":"E","x":210,"y":0.001,"b":0.004},{"v":"LV","c":"LC","o":"E","x":230,"y":0.004,"b":0.008},{"v":"LV","c":"LC","o":"E","x":250,"y":0.01,"b":0.015},{"v":"LV","c":"LC","o":"E","x":270,"y":0.022,"b":0.03},{"v":"LV","c":"LC","o":"E","x":290,"y":0.04,"b":0.045},{"v":"LV","c":"LC","o":"E","x":310,"y":0.055,"b":0.06},{"v":"LV","c":"LC","o":"E","x":330,"y":0.058,"b":0.05},{"v":"LV","c":"LC","o":"E","x":350,"y":0.045,"b":0.048},{"v":"LV","c":"LC","o":"E","x":370,"y":0.033,"b":0.035},{"v":"LV","c":"LC","o":"E","x":390,"y":0.024,"b":0.025},{"v":"LV","c":"LC","o":"E","x":410,"y":0.016,"b":0.014},{"v":"LV","c":"LC","o":"E","x":430,"y":0.01,"b":0.01},{"v":"LV","c":"LC","o":"E","x":450,"y":0.006,"b":0.007},{"v":"LV","c":"LC","o":"E","x":470,"y":0.004,"b":0.005},{"v":"LV","c":"LC","o":"E","x":490,"y":0.002,"b":0.004},{"v":"LV","c":"LC","o":"E","x":510,"y":0.001,"b":0.003},{"v":"LV","c":"LC","o":"E","x":530,"y":0.001,"b":0.002},{"v":"LV","c":"LC","o":"E","x":550,"y":0.001,"b":0.002},{"v":"LV","c":"LC","o":"E","x":570,"y":0.001,"b":0.001}],
"E2":[
{"v":"HV","c":"LC","o":"C","x":70,"y":0.001,"b":0.002},{"v":"HV","c":"LC","o":"C","x":90,"y":0.001,"b":0.001},{"v":"HV","c":"LC","o":"C","x":110,"y":0.001,"b":0.002},{"v":"HV","c":"LC","o":"C","x":130,"y":0.001,"b":0.002},{"v":"HV","c":"LC","o":"C","x":150,"y":0.001,"b":0.002},{"v":"HV","c":"LC","o":"C","x":170,"y":0.001,"b":0.003},{"v":"HV","c":"LC","o":"C","x":190,"y":0.001,"b":0.004},{"v":"HV","c":"LC","o":"C","x":210,"y":0.004,"b":0.006},{"v":"HV","c":"LC","o":"C","x":230,"y":0.01,"b":0.016},{"v":"HV","c":"LC","o":"C","x":250,"y":0.024,"b":0.028},{"v":"HV","c":"LC","o":"C","x":270,"y":0.05,"b":0.048},{"v":"HV","c":"LC","o":"C","x":290,"y":0.085,"b":0.082},{"v":"HV","c":"LC","o":"C","x":310,"y":0.125,"b":0.15},{"v":"HV","c":"LC","o":"C","x":330,"y":0.143,"b":0.152},{"v":"HV","c":"LC","o":"C","x":350,"y":0.135,"b":0.117},{"v":"HV","c":"LC","o":"C","x":370,"y":0.115,"b":0.11},{"v":"HV","c":"LC","o":"C","x":390,"y":0.085,"b":0.085},{"v":"HV","c":"LC","o":"C","x":410,"y":0.057,"b":0.055},{"v":"HV","c":"LC","o":"C","x":430,"y":0.04,"b":0.04},{"v":"HV","c":"LC","o":"C","x":450,"y":0.025,"b":0.03},{"v":"HV","c":"LC","o":"C","x":470,"y":0.015,"b":0.018},{"v":"HV","c":"LC","o":"C","x":490,"y":0.008,"b":0.01},{"v":"HV","c":"LC","o":"C","x":510,"y":0.004,"b":0.006},{"v":"HV","c":"LC","o":"C","x":530,"y":0.002,"b":0.004},{"v":"HV","c":"LC","o":"C","x":550,"y":0.001,"b":0.003},{"v":"HV","c":"LC","o":"C","x":570,"y":0.001,"b":0.002},
{"v":"LV","c":"LC","o":"C","x":70,"y":0.001,"b":0.001},{"v":"LV","c":"LC","o":"C","x":90,"y":0.001,"b":0.002},{"v":"LV","c":"LC","o":"C","x":110,"y":0.001,"b":0.001},{"v":"LV","c":"LC","o":"C","x":130,"y":0.001,"b":0.002},{"v":"LV","c":"LC","o":"C","x":150,"y":0.001,"b":0.002},{"v":"LV","c":"LC","o":"C","x":170,"y":0.001,"b":0.002},{"v":"LV","c":"LC","o":"C","x":190,"y":0.001,"b":0.003},{"v":"LV","c":"LC","o":"C","x":210,"y":0.001,"b":0.002},{"v":"LV","c":"LC","o":"C","x":230,"y":0.001,"b":0.003},{"v":"LV","c":"LC","o":"C","x":250,"y":0.001,"b":0.004},{"v":"LV","c":"LC","o":"C","x":270,"y":0.004,"b":0.006},{"v":"LV","c":"LC","o":"C","x":290,"y":0.01,"b":0.01},{"v":"LV","c":"LC","o":"C","x":310,"y":0.025,"b":0.025},{"v":"LV","c":"LC","o":"C","x":330,"y":0.06,"b":0.07},{"v":"LV","c":"LC","o":"C","x":350,"y":0.1,"b":0.09},{"v":"LV","c":"LC","o":"C","x":370,"y":0.113,"b":0.112},{"v":"LV","c":"LC","o":"C","x":390,"y":0.105,"b":0.1},{"v":"LV","c":"LC","o":"C","x":410,"y":0.09,"b":0.09},{"v":"LV","c":"LC","o":"C","x":430,"y":0.062,"b":0.06},{"v":"LV","c":"LC","o":"C","x":450,"y":0.04,"b":0.045},{"v":"LV","c":"LC","o":"C","x":470,"y":0.027,"b":0.03},{"v":"LV","c":"LC","o":"C","x":490,"y":0.016,"b":0.018},{"v":"LV","c":"LC","o":"C","x":510,"y":0.009,"b":0.01},{"v":"LV","c":"LC","o":"C","x":530,"y":0.005,"b":0.007},{"v":"LV","c":"LC","o":"C","x":550,"y":0.002,"b":0.005},{"v":"LV","c":"LC","o":"C","x":570,"y":0.001,"b":0.004},
{"v":"HV","c":"LC","o":"E","x":70,"y":0.001,"b":0.001},{"v":"HV","c":"LC","o":"E","x":90,"y":0.001,"b":0.002},{"v":"HV","c":"LC","o":"E","x":110,"y":0.001,"b":0.001},{"v":"HV","c":"LC","o":"E","x":130,"y":0.001,"b":0.001},{"v":"HV","c":"LC","o":"E","x":150,"y":0.001,"b":0.002},{"v":"HV","c":"LC","o":"E","x":170,"y":0.001,"b":0.002},{"v":"HV","c":"LC","o":"E","x":190,"y":0.001,"b":0.003},{"v":"HV","c":"LC","o":"E","x":210,"y":0.001,"b":0.004},{"v":"HV","c":"LC","o":"E","x":230,"y":0.001,"b":0.006},{"v":"HV","c":"LC","o":"E","x":250,"y":0.002,"b":0.007},{"v":"HV","c":"LC","o":"E","x":270,"y":0.005,"b":0.01},{"v":"HV","c":"LC","o":"E","x":290,"y":0.01,"b":0.014},{"v":"HV","c":"LC","o":"E","x":310,"y":0.015,"b":0.018},{"v":"HV","c":"LC","o":"E","x":330,"y":0.02,"b":0.022},{"v":"HV","c":"LC","o":"E","x":350,"y":0.024,"b":0.026},{"v":"HV","c":"LC","o":"E","x":370,"y":0.025,"b":0.025},{"v":"HV","c":"LC","o":"E","x":390,"y":0.022,"b":0.02},{"v":"HV","c":"LC","o":"E","x":410,"y":0.016,"b":0.017},{"v":"HV","c":"LC","o":"E","x":430,"y":0.011,"b":0.012},{"v":"HV","c":"LC","o":"E","x":450,"y":0.007,"b":0.008},{"v":"HV","c":"LC","o":"E","x":470,"y":0.004,"b":0.005},{"v":"HV","c":"LC","o":"E","x":490,"y":0.002,"b":0.003},{"v":"HV","c":"LC","o":"E","x":510,"y":0.001,"b":0.002},{"v":"HV","c":"LC","o":"E","x":530,"y":0.001,"b":0.002},{"v":"HV","c":"LC","o":"E","x":550,"y":0.001,"b":0.001},{"v":"HV","c":"LC","o":"E","x":570,"y":0.001,"b":0.001},
{"v":"LV","c":"LC","o":"E","x":70,"y":0.001,"b":0.002},{"v":"LV","c":"LC","o":"E","x":90,"y":0.001,"b":0.001},{"v":"LV","c":"LC","o":"E","x":110,"y":0.001,"b":0.002},{"v":"LV","c":"LC","o":"E","x":130,"y":0.001,"b":0.001},{"v":"LV","c":"LC","o":"E","x":150,"y":0.001,"b":0.002},{"v":"LV","c":"LC","o":"E","x":170,"y":0.001,"b":0.002},{"v":"LV","c":"LC","o":"E","x":190,"y":0.001,"b":0.003},{"v":"LV","c":"LC","o":"E","x":210,"y":0.001,"b":0.004},{"v":"LV","c":"LC","o":"E","x":230,"y":0.001,"b":0.005},{"v":"LV","c":"LC","o":"E","x":250,"y":0.003,"b":0.008},{"v":"LV","c":"LC","o":"E","x":270,"y":0.01,"b":0.018},{"v":"LV","c":"LC","o":"E","x":290,"y":0.03,"b":0.035},{"v":"LV","c":"LC","o":"E","x":310,"y":0.055,"b":0.052},{"v":"LV","c":"LC","o":"E","x":330,"y":0.058,"b":0.055},{"v":"LV","c":"LC","o":"E","x":350,"y":0.045,"b":0.04},{"v":"LV","c":"LC","o":"E","x":370,"y":0.033,"b":0.03},{"v":"LV","c":"LC","o":"E","x":390,"y":0.023,"b":0.025},{"v":"LV","c":"LC","o":"E","x":410,"y":0.015,"b":0.018},{"v":"LV","c":"LC","o":"E","x":430,"y":0.01,"b":0.012},{"v":"LV","c":"LC","o":"E","x":450,"y":0.006,"b":0.008},{"v":"LV","c":"LC","o":"E","x":470,"y":0.004,"b":0.006},{"v":"LV","c":"LC","o":"E","x":490,"y":0.002,"b":0.004},{"v":"LV","c":"LC","o":"E","x":510,"y":0.001,"b":0.003},{"v":"LV","c":"LC","o":"E","x":530,"y":0.001,"b":0.002},{"v":"LV","c":"LC","o":"E","x":550,"y":0.001,"b":0.002},{"v":"LV","c":"LC","o":"E","x":570,"y":0.001,"b":0.001}],
"F1L":[{"v":"HV","c":"LC","x":218,"y":0.98},{"v":"HV","c":"LC","x":257,"y":0.96},{"v":"HV","c":"LC","x":268,"y":0.89},{"v":"HV","c":"LC","x":323,"y":0.875},{"v":"HV","c":"LC","x":346,"y":0.82},{"v":"HV","c":"LC","x":379,"y":0.78},{"v":"HV","c":"LC","x":434,"y":0.74},{"v":"HV","c":"LC","x":468,"y":0.755},{"v":"HV","c":"LC","x":501,"y":0.72},{"v":"HV","c":"LC","x":534,"y":0.6},{"v":"HV","c":"LC","x":546,"y":0.69},{"v":"HV","c":"LC","x":573,"y":0.7},
{"v":"LV","c":"LC","x":218,"y":0.025},{"v":"LV","c":"LC","x":251,"y":0.15},{"v":"LV","c":"LC","x":279,"y":0.3},{"v":"LV","c":"LC","x":307,"y":0.5},{"v":"LV","c":"LC","x":335,"y":0.65},{"v":"LV","c":"LC","x":368,"y":0.76},{"v":"LV","c":"LC","x":401,"y":0.81},{"v":"LV","c":"LC","x":446,"y":0.82},{"v":"LV","c":"LC","x":490,"y":0.82},{"v":"LV","c":"LC","x":534,"y":0.81},{"v":"LV","c":"LC","x":562,"y":0.79},{"v":"LV","c":"LC","x":578,"y":0.8},
{"v":"HV","c":"HC","x":168,"y":1.0},{"v":"HV","c":"HC","x":196,"y":0.94},{"v":"HV","c":"HC","x":230,"y":0.915},{"v":"HV","c":"HC","x":260,"y":0.91},{"v":"HV","c":"HC","x":290,"y":0.905},{"v":"HV","c":"HC","x":320,"y":0.905},{"v":"HV","c":"HC","x":357,"y":0.91},{"v":"HV","c":"HC","x":379,"y":0.854},{"v":"HV","c":"HC","x":401,"y":0.9},{"v":"HV","c":"HC","x":423,"y":0.854},{"v":"HV","c":"HC","x":446,"y":0.892},{"v":"HV","c":"HC","x":468,"y":0.854},
{"v":"LV","c":"HC","x":168,"y":0.065},{"v":"LV","c":"HC","x":196,"y":0.06},{"v":"LV","c":"HC","x":223,"y":0.14},{"v":"LV","c":"HC","x":251,"y":0.36},{"v":"LV","c":"HC","x":273,"y":0.62},{"v":"LV","c":"HC","x":301,"y":0.78},{"v":"LV","c":"HC","x":323,"y":0.87},{"v":"LV","c":"HC","x":357,"y":0.9},{"v":"LV","c":"HC","x":390,"y":0.92},{"v":"LV","c":"HC","x":412,"y":0.94},{"v":"LV","c":"HC","x":434,"y":0.89},{"v":"LV","c":"HC","x":462,"y":0.88}],
"F1P":[{"v":"HV","c":"LC","x":257,"y":0.88},{"v":"HV","c":"LC","x":301,"y":0.88},{"v":"HV","c":"LC","x":346,"y":0.81},{"v":"HV","c":"LC","x":368,"y":0.77},{"v":"HV","c":"LC","x":396,"y":0.73},{"v":"HV","c":"LC","x":423,"y":0.72},{"v":"HV","c":"LC","x":446,"y":0.57},{"v":"HV","c":"LC","x":462,"y":0.79},{"v":"HV","c":"LC","x":473,"y":0.7},{"v":"HV","c":"LC","x":490,"y":0.78},{"v":"HV","c":"LC","x":512,"y":0.75},{"v":"HV","c":"LC","x":540,"y":0.67},{"v":"HV","c":"LC","x":545,"y":0.83},{"v":"HV","c":"LC","x":562,"y":0.83},
{"v":"LV","c":"LC","x":190,"y":0.11},{"v":"LV","c":"LC","x":218,"y":0.08},{"v":"LV","c":"LC","x":240,"y":0.14},{"v":"LV","c":"LC","x":262,"y":0.18},{"v":"LV","c":"LC","x":284,"y":0.32},{"v":"LV","c":"LC","x":307,"y":0.45},{"v":"LV","c":"LC","x":329,"y":0.56},{"v":"LV","c":"LC","x":351,"y":0.69},{"v":"LV","c":"LC","x":373,"y":0.76},{"v":"LV","c":"LC","x":401,"y":0.83},{"v":"LV","c":"LC","x":423,"y":0.81},{"v":"LV","c":"LC","x":446,"y":0.74},{"v":"LV","c":"LC","x":468,"y":0.78},{"v":"LV","c":"LC","x":490,"y":0.71},{"v":"LV","c":"LC","x":512,"y":0.63},{"v":"LV","c":"LC","x":540,"y":0.67},{"v":"LV","c":"LC","x":562,"y":0.73},
{"v":"HV","c":"HC","x":162,"y":0.928},{"v":"HV","c":"HC","x":190,"y":0.86},{"v":"HV","c":"HC","x":213,"y":0.92},{"v":"HV","c":"HC","x":235,"y":0.915},{"v":"HV","c":"HC","x":257,"y":0.9},{"v":"HV","c":"HC","x":279,"y":0.896},{"v":"HV","c":"HC","x":301,"y":0.9},{"v":"HV","c":"HC","x":323,"y":0.905},{"v":"HV","c":"HC","x":346,"y":0.915},{"v":"HV","c":"HC","x":368,"y":0.95},{"v":"HV","c":"HC","x":390,"y":0.97},{"v":"HV","c":"HC","x":423,"y":0.98},{"v":"HV","c":"HC","x":446,"y":0.92},{"v":"HV","c":"HC","x":468,"y":1.01},{"v":"HV","c":"HC","x":494,"y":0.96},
{"v":"LV","c":"HC","x":162,"y":0.15},{"v":"LV","c":"HC","x":190,"y":0.15},{"v":"LV","c":"HC","x":213,"y":0.17},{"v":"LV","c":"HC","x":235,"y":0.24},{"v":"LV","c":"HC","x":262,"y":0.43},{"v":"LV","c":"HC","x":279,"y":0.69},{"v":"LV","c":"HC","x":307,"y":0.81},{"v":"LV","c":"HC","x":329,"y":0.91},{"v":"LV","c":"HC","x":351,"y":0.93},{"v":"LV","c":"HC","x":373,"y":0.94},{"v":"LV","c":"HC","x":396,"y":0.96},{"v":"LV","c":"HC","x":423,"y":0.94},{"v":"LV","c":"HC","x":446,"y":0.92},{"v":"LV","c":"HC","x":473,"y":0.95},{"v":"LV","c":"HC","x":495,"y":0.9}],
"F2L":[{"v":"HV","c":"LC","x":212,"y":1.0},{"v":"HV","c":"LC","x":235,"y":0.95},{"v":"HV","c":"LC","x":268,"y":0.905},{"v":"HV","c":"LC","x":312,"y":0.85},{"v":"HV","c":"LC","x":346,"y":0.84},{"v":"HV","c":"LC","x":379,"y":0.8},{"v":"HV","c":"LC","x":423,"y":0.75},{"v":"HV","c":"LC","x":468,"y":0.73},{"v":"HV","c":"LC","x":490,"y":0.7},{"v":"HV","c":"LC","x":512,"y":0.73},{"v":"HV","c":"LC","x":534,"y":0.77},{"v":"HV","c":"LC","x":562,"y":0.65},{"v":"HV","c":"LC","x":568,"y":0.58},{"v":"HV","c":"LC","x":578,"y":0.66},
{"v":"LV","c":"LC","x":218,"y":0.03},{"v":"LV","c":"LC","x":240,"y":0.095},{"v":"LV","c":"LC","x":262,"y":0.24},{"v":"LV","c":"LC","x":284,"y":0.39},{"v":"LV","c":"LC","x":312,"y":0.58},{"v":"LV","c":"LC","x":340,"y":0.71},{"v":"LV","c":"LC","x":368,"y":0.79},{"v":"LV","c":"LC","x":401,"y":0.8},{"v":"LV","c":"LC","x":446,"y":0.8},{"v":"LV","c":"LC","x":490,"y":0.81},{"v":"LV","c":"LC","x":523,"y":0.83},{"v":"LV","c":"LC","x":540,"y":0.86},{"v":"LV","c":"LC","x":557,"y":0.75},{"v":"LV","c":"LC","x":578,"y":0.76},
{"v":"HV","c":"HC","x":207,"y":0.983},{"v":"HV","c":"HC","x":268,"y":0.965},{"v":"HV","c":"HC","x":335,"y":0.945},{"v":"HV","c":"HC","x":379,"y":0.93},{"v":"HV","c":"HC","x":412,"y":0.88},{"v":"HV","c":"HC","x":423,"y":0.92},{"v":"HV","c":"HC","x":446,"y":0.86},{"v":"HV","c":"HC","x":457,"y":0.905},{"v":"HV","c":"HC","x":473,"y":0.83},{"v":"HV","c":"HC","x":490,"y":0.87},{"v":"HV","c":"HC","x":512,"y":0.865},
{"v":"LV","c":"HC","x":207,"y":0.054},{"v":"LV","c":"HC","x":229,"y":0.035},{"v":"LV","c":"HC","x":251,"y":0.175},{"v":"LV","c":"HC","x":273,"y":0.45},{"v":"LV","c":"HC","x":296,"y":0.71},{"v":"LV","c":"HC","x":318,"y":0.87},{"v":"LV","c":"HC","x":340,"y":0.93},{"v":"LV","c":"HC","x":368,"y":0.96},{"v":"LV","c":"HC","x":401,"y":0.965},{"v":"LV","c":"HC","x":434,"y":0.965},{"v":"LV","c":"HC","x":468,"y":0.95},{"v":"LV","c":"HC","x":501,"y":0.9}],
"F2P":[{"v":"HV","c":"LC","x":212,"y":1.0},{"v":"HV","c":"LC","x":229,"y":0.94},{"v":"HV","c":"LC","x":279,"y":0.9},{"v":"HV","c":"LC","x":307,"y":0.875},{"v":"HV","c":"LC","x":335,"y":0.85},{"v":"HV","c":"LC","x":357,"y":0.84},{"v":"HV","c":"LC","x":379,"y":0.81},{"v":"HV","c":"LC","x":401,"y":0.75},{"v":"HV","c":"LC","x":423,"y":0.75},{"v":"HV","c":"LC","x":446,"y":0.69},{"v":"HV","c":"LC","x":468,"y":0.75},{"v":"HV","c":"LC","x":507,"y":0.8},{"v":"HV","c":"LC","x":534,"y":0.79},{"v":"HV","c":"LC","x":562,"y":0.58},
{"v":"LV","c":"LC","x":212,"y":0.12},{"v":"LV","c":"LC","x":235,"y":0.08},{"v":"LV","c":"LC","x":257,"y":0.16},{"v":"LV","c":"LC","x":284,"y":0.3},{"v":"LV","c":"LC","x":307,"y":0.49},{"v":"LV","c":"LC","x":329,"y":0.6},{"v":"LV","c":"LC","x":351,"y":0.74},{"v":"LV","c":"LC","x":373,"y":0.75},{"v":"LV","c":"LC","x":401,"y":0.8},{"v":"LV","c":"LC","x":423,"y":0.78},{"v":"LV","c":"LC","x":446,"y":0.76},{"v":"LV","c":"LC","x":468,"y":0.74},{"v":"LV","c":"LC","x":490,"y":0.81},{"v":"LV","c":"LC","x":512,"y":0.66},{"v":"LV","c":"LC","x":534,"y":0.69},{"v":"LV","c":"LC","x":562,"y":0.76},
{"v":"HV","c":"HC","x":207,"y":0.98},{"v":"HV","c":"HC","x":223,"y":0.975},{"v":"HV","c":"HC","x":240,"y":0.965},{"v":"HV","c":"HC","x":257,"y":0.96},{"v":"HV","c":"HC","x":279,"y":0.955},{"v":"HV","c":"HC","x":301,"y":0.95},{"v":"HV","c":"HC","x":323,"y":0.95},{"v":"HV","c":"HC","x":346,"y":0.945},{"v":"HV","c":"HC","x":368,"y":0.94},{"v":"HV","c":"HC","x":390,"y":0.945},{"v":"HV","c":"HC","x":412,"y":0.93},{"v":"HV","c":"HC","x":434,"y":0.945},{"v":"HV","c":"HC","x":462,"y":0.94},{"v":"HV","c":"HC","x":490,"y":0.95},{"v":"HV","c":"HC","x":512,"y":1.0},
{"v":"LV","c":"HC","x":212,"y":0.055},{"v":"LV","c":"HC","x":235,"y":0.03},{"v":"LV","c":"HC","x":257,"y":0.23},{"v":"LV","c":"HC","x":279,"y":0.6},{"v":"LV","c":"HC","x":301,"y":0.79},{"v":"LV","c":"HC","x":323,"y":0.9},{"v":"LV","c":"HC","x":346,"y":0.93},{"v":"LV","c":"HC","x":368,"y":0.95},{"v":"LV","c":"HC","x":396,"y":0.96},{"v":"LV","c":"HC","x":418,"y":0.955},{"v":"LV","c":"HC","x":446,"y":0.955},{"v":"LV","c":"HC","x":468,"y":0.94},{"v":"LV","c":"HC","x":490,"y":0.875},{"v":"LV","c":"HC","x":512,"y":0.98}]
},
"concat":[
{"width":158,"height":261,"title":{"text":"A","offset":23},"layer":[
 {"data":{"name":"A1"},"mark":{"type":"line","strokeWidth":3.5},"encoding":{
  "x":{"field":"x","type":"quantitative","scale":{"domain":[700,800],"nice":false,"zero":false},"axis":{"values":[700,750,800],"labels":false,"title":null}},
  "y":{"field":"y","type":"quantitative","scale":{"domain":[-0.115,1.073],"nice":false,"zero":false},"axis":{"values":[0,1],"format":"~g","title":"Scaled Beta"}},
  "color":{"field":"v","type":"nominal","scale":{"domain":["HV","LV"],"range":["#ff0000","#0000ff"]},"legend":{"orient":"none","legendX":304,"legendY":-102,"title":null,"symbolType":"M-2,0H2","labelOffset":12.5,"labelExpr":"datum.value == 'HV' ? 'High value' : 'Low value'"}},
  "opacity":{"field":"c","type":"ordinal","scale":{"type":"ordinal","domain":["HC","LC"],"range":[1,0.4]},"legend":{"orient":"none","legendX":484,"legendY":-102,"title":null,"symbolType":"M-2,-0.4H2","symbolStrokeColor":"#ff0000","labelOffset":12.5,"labelExpr":"datum.value == 'HC' ? 'High coherence' : 'Low coherence'"}}}},
 {"data":{"name":"A1"},"mark":{"type":"rule","strokeDash":[13,15],"strokeWidth":5,"color":"black"},"encoding":{
  "y":{"datum":1,"type":"quantitative","scale":{"domain":[-0.115,1.073],"nice":false,"zero":false},"axis":{"values":[0,1],"format":"~g","title":"Scaled Beta"}},
  "fill":{"field":"c","type":"nominal","scale":{"domain":["LC","HC"],"range":["#9999ff","#0000ff"]},"legend":{"orient":"none","legendX":484,"legendY":-102,"title":null,"values":["HC","LC"],"symbolType":"M-2,0.18H2V0.65H-2Z","symbolStrokeColor":"transparent","symbolStrokeWidth":0,"labelOpacity":0,"labelOffset":12.5,"labelExpr":"' '"}}}}
]},
{"data":{"values":[]},"mark":"point","width":54,"height":10},
{"width":156,"height":261,"title":{"text":"B","offset":14},"data":{"name":"B1"},"mark":{"type":"line","strokeWidth":3.5,"interpolate":"monotone"},"encoding":{
  "x":{"field":"x","type":"quantitative","scale":{"domain":[50,290],"nice":false,"zero":false},"axis":{"values":[50,150,250],"labels":false,"title":null}},
  "y":{"field":"y","type":"quantitative","scale":{"domain":[-5,15],"nice":false,"zero":false},"axis":{"values":[-5,0,5,10,15],"format":"~g","labelExpr":"replace(datum.label, '−', '-')","title":"LRP (μV/m²)"}},
  "color":{"field":"v","type":"nominal","scale":{"domain":["HV","LV"],"range":["#ff0000","#0000ff"]}},
  "opacity":{"field":"c","type":"ordinal","scale":{"type":"ordinal","domain":["HC","LC"],"range":[1,0.4]}}}},
{"data":{"values":[]},"mark":"point","width":85,"height":10},
{"width":156,"height":261,"title":{"text":"C","offset":23},"data":{"name":"C1"},"mark":{"type":"line","strokeWidth":3.5,"interpolate":"monotone"},"encoding":{
  "x":{"field":"x","type":"quantitative","scale":{"domain":[50,291],"nice":false,"zero":false},"axis":{"values":[50,150,250],"labels":false,"title":null}},
  "y":{"field":"y","type":"quantitative","scale":{"domain":[-0.317,0.972],"nice":false,"zero":false},"axis":{"values":[-0.2,0,0.2,0.4,0.6,0.8],"format":"~g","labelExpr":"replace(datum.label, '−', '-')","title":"Simulated LRP"}},
  "color":{"field":"v","type":"nominal","scale":{"domain":["HV","LV"],"range":["#ff0000","#0000ff"]}},
  "opacity":{"field":"c","type":"ordinal","scale":{"type":"ordinal","domain":["HC","LC"],"range":[1,0.4]}}}},
{"data":{"values":[]},"mark":"point","width":70,"height":10},
{"width":158,"height":261,"title":{"text":"D","offset":23},"data":{"name":"D1"},"layer":[
 {"mark":{"type":"line","strokeJoin":"round"},"encoding":{
  "x":{"field":"x","type":"quantitative","scale":{"domain":[63,590],"nice":false,"zero":false},"axis":{"values":[200,400],"labels":false,"title":null}},
  "y":{"field":"y","type":"quantitative","scale":{"domain":[0,0.219],"nice":false,"zero":false},"axis":{"values":[0,0.1,0.2],"format":"~g","title":"Response Probability"}},
  "color":{"field":"v","type":"nominal","scale":{"domain":["HV","LV"],"range":["#ff0000","#0000ff"]}},
  "opacity":{"field":"c","type":"ordinal","scale":{"type":"ordinal","domain":["HC","LC"],"range":[1,0.4]}},
  "strokeWidth":{"field":"o","type":"ordinal","scale":{"type":"ordinal","domain":["C","E"],"range":[4.5,2]},"legend":{"orient":"none","legendX":698,"legendY":-102,"title":null,"symbolType":"M-2,0H2","symbolStrokeColor":"black","labelOffset":5,"labelExpr":"datum.value == 'C' ? 'Correct' : 'Error'"}}}},
 {"transform":[{"filter":"datum.o == 'C'"}],"mark":{"type":"line","strokeWidth":8,"strokeJoin":"round"},"encoding":{
  "x":{"field":"x","type":"quantitative","scale":{"domain":[63,590],"nice":false,"zero":false},"axis":{"values":[200,400],"labels":false,"title":null}},
  "y":{"field":"y","type":"quantitative","scale":{"domain":[0,0.219],"nice":false,"zero":false},"axis":{"values":[0,0.1,0.2],"format":"~g","title":"Response Probability"}},
  "color":{"field":"v","type":"nominal","scale":{"domain":["HV","LV"],"range":["#ff0000","#0000ff"]}},
  "opacity":{"field":"c","type":"ordinal","scale":{"type":"ordinal","domain":["HC","LC"],"range":[1,0.4]}}}},
 {"transform":[{"filter":"datum.o == 'C'"}],"mark":{"type":"point","filled":false,"size":80,"strokeWidth":1.5,"opacity":1},"encoding":{
  "x":{"field":"x","type":"quantitative","scale":{"domain":[63,590],"nice":false,"zero":false},"axis":{"values":[200,400],"labels":false,"title":null}},
  "y":{"field":"b","type":"quantitative","scale":{"domain":[0,0.219],"nice":false,"zero":false},"axis":{"values":[0,0.1,0.2],"format":"~g","title":"Response Probability"}},
  "color":{"field":"v","type":"nominal","scale":{"domain":["HV","LV"],"range":["#ff0000","#0000ff"]}},
  "strokeOpacity":{"field":"c","type":"ordinal","scale":{"type":"ordinal","domain":["LC","HC"],"range":[0.4,1]}}}},
 {"transform":[{"filter":"datum.o == 'E'"}],"mark":{"type":"point","filled":false,"size":22,"strokeWidth":1.3,"opacity":1},"encoding":{
  "x":{"field":"x","type":"quantitative","scale":{"domain":[63,590],"nice":false,"zero":false},"axis":{"values":[200,400],"labels":false,"title":null}},
  "y":{"field":"b","type":"quantitative","scale":{"domain":[0,0.219],"nice":false,"zero":false},"axis":{"values":[0,0.1,0.2],"format":"~g","title":"Response Probability"}},
  "color":{"field":"v","type":"nominal","scale":{"domain":["HV","LV"],"range":["#ff0000","#0000ff"]}},
  "strokeOpacity":{"field":"c","type":"ordinal","scale":{"type":"ordinal","domain":["LC","HC"],"range":[0.4,1]}}}}
]},
{"data":{"values":[]},"mark":"point","width":22,"height":10},
{"width":158,"height":261,"title":{"text":"E","offset":23},"data":{"name":"E1"},"layer":[
 {"mark":{"type":"line","strokeJoin":"round"},"encoding":{
  "x":{"field":"x","type":"quantitative","scale":{"domain":[68,588],"nice":false,"zero":false},"axis":{"values":[200,400],"labels":false,"title":null}},
  "y":{"field":"y","type":"quantitative","scale":{"domain":[0,0.221],"nice":false,"zero":false},"axis":{"values":[0,0.05,0.1,0.15,0.2],"labels":false,"title":null}},
  "color":{"field":"v","type":"nominal","scale":{"domain":["HV","LV"],"range":["#ff0000","#0000ff"]}},
  "opacity":{"field":"c","type":"ordinal","scale":{"type":"ordinal","domain":["HC","LC"],"range":[1,0.4]}},
  "strokeWidth":{"field":"o","type":"ordinal","scale":{"type":"ordinal","domain":["C","E"],"range":[4.5,2]}}}},
 {"transform":[{"filter":"datum.o == 'C'"}],"mark":{"type":"line","strokeWidth":7,"strokeJoin":"round"},"encoding":{
  "x":{"field":"x","type":"quantitative","scale":{"domain":[68,588],"nice":false,"zero":false},"axis":{"values":[200,400],"labels":false,"title":null}},
  "y":{"field":"y","type":"quantitative","scale":{"domain":[0,0.221],"nice":false,"zero":false},"axis":{"values":[0,0.05,0.1,0.15,0.2],"labels":false,"title":null}},
  "color":{"field":"v","type":"nominal","scale":{"domain":["HV","LV"],"range":["#ff0000","#0000ff"]}},
  "opacity":{"field":"c","type":"ordinal","scale":{"type":"ordinal","domain":["HC","LC"],"range":[1,0.4]}}}},
 {"transform":[{"filter":"datum.o == 'C'"}],"mark":{"type":"point","filled":false,"size":80,"strokeWidth":1.5,"opacity":1},"encoding":{
  "x":{"field":"x","type":"quantitative","scale":{"domain":[68,588],"nice":false,"zero":false},"axis":{"values":[200,400],"labels":false,"title":null}},
  "y":{"field":"b","type":"quantitative","scale":{"domain":[0,0.221],"nice":false,"zero":false},"axis":{"values":[0,0.05,0.1,0.15,0.2],"labels":false,"title":null}},
  "color":{"field":"v","type":"nominal","scale":{"domain":["HV","LV"],"range":["#ff0000","#0000ff"]}},
  "strokeOpacity":{"field":"c","type":"ordinal","scale":{"type":"ordinal","domain":["LC","HC"],"range":[0.4,1]}}}},
 {"transform":[{"filter":"datum.o == 'E'"}],"mark":{"type":"point","filled":false,"size":22,"strokeWidth":1.3,"opacity":1},"encoding":{
  "x":{"field":"x","type":"quantitative","scale":{"domain":[68,588],"nice":false,"zero":false},"axis":{"values":[200,400],"labels":false,"title":null}},
  "y":{"field":"b","type":"quantitative","scale":{"domain":[0,0.221],"nice":false,"zero":false},"axis":{"values":[0,0.05,0.1,0.15,0.2],"labels":false,"title":null}},
  "color":{"field":"v","type":"nominal","scale":{"domain":["HV","LV"],"range":["#ff0000","#0000ff"]}},
  "strokeOpacity":{"field":"c","type":"ordinal","scale":{"type":"ordinal","domain":["LC","HC"],"range":[0.4,1]}}}}
]},
{"data":{"values":[]},"mark":"point","width":64,"height":10},
{"width":159,"height":261,"title":{"text":"F","offset":10},"layer":[
 {"data":{"name":"F1L"},"mark":{"type":"line","strokeWidth":3.5},"encoding":{
  "x":{"field":"x","type":"quantitative","scale":{"domain":[50,580],"nice":false,"zero":false},"axis":{"values":[200,400],"labels":false,"title":null}},
  "y":{"field":"y","type":"quantitative","scale":{"domain":[0,1],"nice":false,"zero":false},"axis":{"values":[0,0.5,1],"format":"~g","title":"Proportion Correct"}},
  "color":{"field":"v","type":"nominal","scale":{"domain":["HV","LV"],"range":["#ff0000","#0000ff"]}},
  "opacity":{"field":"c","type":"ordinal","scale":{"type":"ordinal","domain":["HC","LC"],"range":[1,0.4]}}}},
 {"data":{"name":"F1P"},"mark":{"type":"point","filled":false,"size":110,"strokeWidth":1.8,"opacity":1},"encoding":{
  "x":{"field":"x","type":"quantitative","scale":{"domain":[50,580],"nice":false,"zero":false},"axis":{"values":[200,400],"labels":false,"title":null}},
  "y":{"field":"y","type":"quantitative","scale":{"domain":[0,1],"nice":false,"zero":false},"axis":{"values":[0,0.5,1],"format":"~g","title":"Proportion Correct"}},
  "color":{"field":"v","type":"nominal","scale":{"domain":["HV","LV"],"range":["#ff0000","#0000ff"]}},
  "strokeOpacity":{"field":"c","type":"ordinal","scale":{"type":"ordinal","domain":["LC","HC"],"range":[0.4,1]}}}}
]},
{"width":158,"height":261,"layer":[
 {"data":{"name":"A2"},"mark":{"type":"line","strokeWidth":3.5},"encoding":{
  "x":{"field":"x","type":"quantitative","scale":{"domain":[700,800],"nice":false,"zero":false},"axis":{"values":[700,750,800],"title":["Time relative","to cue (ms)"]}},
  "y":{"field":"y","type":"quantitative","scale":{"domain":[-0.115,1.073],"nice":false,"zero":false},"axis":{"values":[0,1],"format":"~g","title":"Scaled Beta"}},
  "color":{"field":"v","type":"nominal","scale":{"domain":["HV","LV"],"range":["#ff0000","#0000ff"]}},
  "opacity":{"field":"c","type":"ordinal","scale":{"type":"ordinal","domain":["HC","LC"],"range":[1,0.4]}}}},
 {"data":{"name":"A2"},"mark":{"type":"rule","strokeDash":[13,15],"strokeWidth":5,"color":"black"},"encoding":{
  "y":{"datum":1,"type":"quantitative","scale":{"domain":[-0.115,1.073],"nice":false,"zero":false},"axis":{"values":[0,1],"format":"~g","title":"Scaled Beta"}}}}
]},
{"data":{"values":[]},"mark":"point","width":54,"height":10},
{"width":156,"height":261,"data":{"name":"B2"},"mark":{"type":"line","strokeWidth":3.5,"interpolate":"monotone"},"encoding":{
  "x":{"field":"x","type":"quantitative","scale":{"domain":[50,290],"nice":false,"zero":false},"axis":{"values":[50,150,250],"title":["Time relative to","stimulus (ms)"]}},
  "y":{"field":"y","type":"quantitative","scale":{"domain":[-5,15],"nice":false,"zero":false},"axis":{"values":[-5,0,5,10,15],"format":"~g","labelExpr":"replace(datum.label, '−', '-')","title":"LRP (μV/m²)"}},
  "color":{"field":"v","type":"nominal","scale":{"domain":["HV","LV"],"range":["#ff0000","#0000ff"]}},
  "opacity":{"field":"c","type":"ordinal","scale":{"type":"ordinal","domain":["HC","LC"],"range":[1,0.4]}}}},
{"data":{"values":[]},"mark":"point","width":85,"height":10},
{"width":156,"height":261,"data":{"name":"C2"},"mark":{"type":"line","strokeWidth":3.5,"interpolate":"monotone"},"encoding":{
  "x":{"field":"x","type":"quantitative","scale":{"domain":[50,291],"nice":false,"zero":false},"axis":{"values":[50,150,250],"title":["Time relative to","stimulus (ms)"]}},
  "y":{"field":"y","type":"quantitative","scale":{"domain":[-0.32,0.967],"nice":false,"zero":false},"axis":{"values":[-0.2,0,0.2,0.4,0.6,0.8],"format":"~g","labelExpr":"replace(datum.label, '−', '-')","title":"Simulated LRP"}},
  "color":{"field":"v","type":"nominal","scale":{"domain":["HV","LV"],"range":["#ff0000","#0000ff"]}},
  "opacity":{"field":"c","type":"ordinal","scale":{"type":"ordinal","domain":["HC","LC"],"range":[1,0.4]}}}},
{"data":{"values":[]},"mark":"point","width":70,"height":10},
{"width":158,"height":261,"data":{"name":"D2"},"layer":[
 {"mark":{"type":"line","strokeJoin":"round"},"encoding":{
  "x":{"field":"x","type":"quantitative","scale":{"domain":[63,590],"nice":false,"zero":false},"axis":{"values":[200,400],"title":["Response","time (ms)"]}},
  "y":{"field":"y","type":"quantitative","scale":{"domain":[0,0.222],"nice":false,"zero":false},"axis":{"values":[0,0.1,0.2],"format":"~g","title":"Response Probability"}},
  "color":{"field":"v","type":"nominal","scale":{"domain":["HV","LV"],"range":["#ff0000","#0000ff"]}},
  "opacity":{"field":"c","type":"ordinal","scale":{"type":"ordinal","domain":["HC","LC"],"range":[1,0.4]}},
  "strokeWidth":{"field":"o","type":"ordinal","scale":{"type":"ordinal","domain":["C","E"],"range":[4.5,2]}}}},
 {"transform":[{"filter":"datum.o == 'C'"}],"mark":{"type":"line","strokeWidth":8,"strokeJoin":"round"},"encoding":{
  "x":{"field":"x","type":"quantitative","scale":{"domain":[63,590],"nice":false,"zero":false},"axis":{"values":[200,400],"title":["Response","time (ms)"]}},
  "y":{"field":"y","type":"quantitative","scale":{"domain":[0,0.222],"nice":false,"zero":false},"axis":{"values":[0,0.1,0.2],"format":"~g","title":"Response Probability"}},
  "color":{"field":"v","type":"nominal","scale":{"domain":["HV","LV"],"range":["#ff0000","#0000ff"]}},
  "opacity":{"field":"c","type":"ordinal","scale":{"type":"ordinal","domain":["HC","LC"],"range":[1,0.4]}}}},
 {"transform":[{"filter":"datum.o == 'C'"}],"mark":{"type":"point","filled":false,"size":80,"strokeWidth":1.5,"opacity":1},"encoding":{
  "x":{"field":"x","type":"quantitative","scale":{"domain":[63,590],"nice":false,"zero":false},"axis":{"values":[200,400],"title":["Response","time (ms)"]}},
  "y":{"field":"b","type":"quantitative","scale":{"domain":[0,0.222],"nice":false,"zero":false},"axis":{"values":[0,0.1,0.2],"format":"~g","title":"Response Probability"}},
  "color":{"field":"v","type":"nominal","scale":{"domain":["HV","LV"],"range":["#ff0000","#0000ff"]}},
  "strokeOpacity":{"field":"c","type":"ordinal","scale":{"type":"ordinal","domain":["LC","HC"],"range":[0.4,1]}}}},
 {"transform":[{"filter":"datum.o == 'E'"}],"mark":{"type":"point","filled":false,"size":22,"strokeWidth":1.3,"opacity":1},"encoding":{
  "x":{"field":"x","type":"quantitative","scale":{"domain":[63,590],"nice":false,"zero":false},"axis":{"values":[200,400],"title":["Response","time (ms)"]}},
  "y":{"field":"b","type":"quantitative","scale":{"domain":[0,0.222],"nice":false,"zero":false},"axis":{"values":[0,0.1,0.2],"format":"~g","title":"Response Probability"}},
  "color":{"field":"v","type":"nominal","scale":{"domain":["HV","LV"],"range":["#ff0000","#0000ff"]}},
  "strokeOpacity":{"field":"c","type":"ordinal","scale":{"type":"ordinal","domain":["LC","HC"],"range":[0.4,1]}}}}
]},
{"data":{"values":[]},"mark":"point","width":22,"height":10},
{"width":158,"height":261,"data":{"name":"E2"},"layer":[
 {"mark":{"type":"line","strokeJoin":"round"},"encoding":{
  "x":{"field":"x","type":"quantitative","scale":{"domain":[68,588],"nice":false,"zero":false},"axis":{"values":[200,400],"title":["Response","time (ms)"]}},
  "y":{"field":"y","type":"quantitative","scale":{"domain":[0,0.221],"nice":false,"zero":false},"axis":{"values":[0,0.05,0.1,0.15,0.2],"labels":false,"title":null}},
  "color":{"field":"v","type":"nominal","scale":{"domain":["HV","LV"],"range":["#ff0000","#0000ff"]}},
  "opacity":{"field":"c","type":"ordinal","scale":{"type":"ordinal","domain":["HC","LC"],"range":[1,0.4]}},
  "strokeWidth":{"field":"o","type":"ordinal","scale":{"type":"ordinal","domain":["C","E"],"range":[4.5,2]}}}},
 {"transform":[{"filter":"datum.o == 'C'"}],"mark":{"type":"line","strokeWidth":7,"strokeJoin":"round"},"encoding":{
  "x":{"field":"x","type":"quantitative","scale":{"domain":[68,588],"nice":false,"zero":false},"axis":{"values":[200,400],"title":["Response","time (ms)"]}},
  "y":{"field":"y","type":"quantitative","scale":{"domain":[0,0.221],"nice":false,"zero":false},"axis":{"values":[0,0.05,0.1,0.15,0.2],"labels":false,"title":null}},
  "color":{"field":"v","type":"nominal","scale":{"domain":["HV","LV"],"range":["#ff0000","#0000ff"]}},
  "opacity":{"field":"c","type":"ordinal","scale":{"type":"ordinal","domain":["HC","LC"],"range":[1,0.4]}}}},
 {"transform":[{"filter":"datum.o == 'C'"}],"mark":{"type":"point","filled":false,"size":80,"strokeWidth":1.5,"opacity":1},"encoding":{
  "x":{"field":"x","type":"quantitative","scale":{"domain":[68,588],"nice":false,"zero":false},"axis":{"values":[200,400],"title":["Response","time (ms)"]}},
  "y":{"field":"b","type":"quantitative","scale":{"domain":[0,0.221],"nice":false,"zero":false},"axis":{"values":[0,0.05,0.1,0.15,0.2],"labels":false,"title":null}},
  "color":{"field":"v","type":"nominal","scale":{"domain":["HV","LV"],"range":["#ff0000","#0000ff"]}},
  "strokeOpacity":{"field":"c","type":"ordinal","scale":{"type":"ordinal","domain":["LC","HC"],"range":[0.4,1]}}}},
 {"transform":[{"filter":"datum.o == 'E'"}],"mark":{"type":"point","filled":false,"size":22,"strokeWidth":1.3,"opacity":1},"encoding":{
  "x":{"field":"x","type":"quantitative","scale":{"domain":[68,588],"nice":false,"zero":false},"axis":{"values":[200,400],"title":["Response","time (ms)"]}},
  "y":{"field":"b","type":"quantitative","scale":{"domain":[0,0.221],"nice":false,"zero":false},"axis":{"values":[0,0.05,0.1,0.15,0.2],"labels":false,"title":null}},
  "color":{"field":"v","type":"nominal","scale":{"domain":["HV","LV"],"range":["#ff0000","#0000ff"]}},
  "strokeOpacity":{"field":"c","type":"ordinal","scale":{"type":"ordinal","domain":["LC","HC"],"range":[0.4,1]}}}}
]},
{"data":{"values":[]},"mark":"point","width":64,"height":10},
{"width":159,"height":261,"layer":[
 {"data":{"name":"F2L"},"mark":{"type":"line","strokeWidth":3.5},"encoding":{
  "x":{"field":"x","type":"quantitative","scale":{"domain":[50,580],"nice":false,"zero":false},"axis":{"values":[200,400],"title":["Response","time (ms)"]}},
  "y":{"field":"y","type":"quantitative","scale":{"domain":[0,1.01],"nice":false,"zero":false},"axis":{"values":[0,0.5,1],"format":"~g","title":"Proportion Correct"}},
  "color":{"field":"v","type":"nominal","scale":{"domain":["HV","LV"],"range":["#ff0000","#0000ff"]}},
  "opacity":{"field":"c","type":"ordinal","scale":{"type":"ordinal","domain":["HC","LC"],"range":[1,0.4]}}}},
 {"data":{"name":"F2P"},"mark":{"type":"point","filled":false,"size":110,"strokeWidth":1.8,"opacity":1},"encoding":{
  "x":{"field":"x","type":"quantitative","scale":{"domain":[50,580],"nice":false,"zero":false},"axis":{"values":[200,400],"title":["Response","time (ms)"]}},
  "y":{"field":"y","type":"quantitative","scale":{"domain":[0,1.01],"nice":false,"zero":false},"axis":{"values":[0,0.5,1],"format":"~g","title":"Proportion Correct"}},
  "color":{"field":"v","type":"nominal","scale":{"domain":["HV","LV"],"range":["#ff0000","#0000ff"]}},
  "strokeOpacity":{"field":"c","type":"ordinal","scale":{"type":"ordinal","domain":["LC","HC"],"range":[0.4,1]}}}}
]}
],
"columns":11,
"spacing":{"row":38,"column":0},
"bounds":"flush",
"align":"each",
"config":{
 "view":{"stroke":null},
 "font":"Liberation Sans",
 "axis":{"labelFont":"Liberation Sans","titleFont":"Liberation Sans","labelFontSize":19,"titleFontSize":22,"titleFontWeight":"normal","labelColor":"#262626","titleColor":"#262626","domainColor":"#262626","tickColor":"#262626","domainWidth":1.2,"tickWidth":1.2,"tickSize":-5,"labelPadding":11,"grid":false,"labelFlush":false,"labelOverlap":false,"titleLineHeight":19},
 "axisX":{"titlePadding":7,"titleFontSize":21,"titleLineHeight":21},
 "axisY":{"titlePadding":0},
 "title":{"font":"Liberation Sans","fontSize":18,"fontWeight":"normal","color":"#262626","frame":"group","baseline":"alphabetic"},
 "legend":{"labelFont":"Liberation Sans","labelFontSize":20,"labelColor":"black","rowPadding":0,"padding":0,"symbolSize":289,"symbolStrokeWidth":4.5,"labelLimit":400}
}
}
